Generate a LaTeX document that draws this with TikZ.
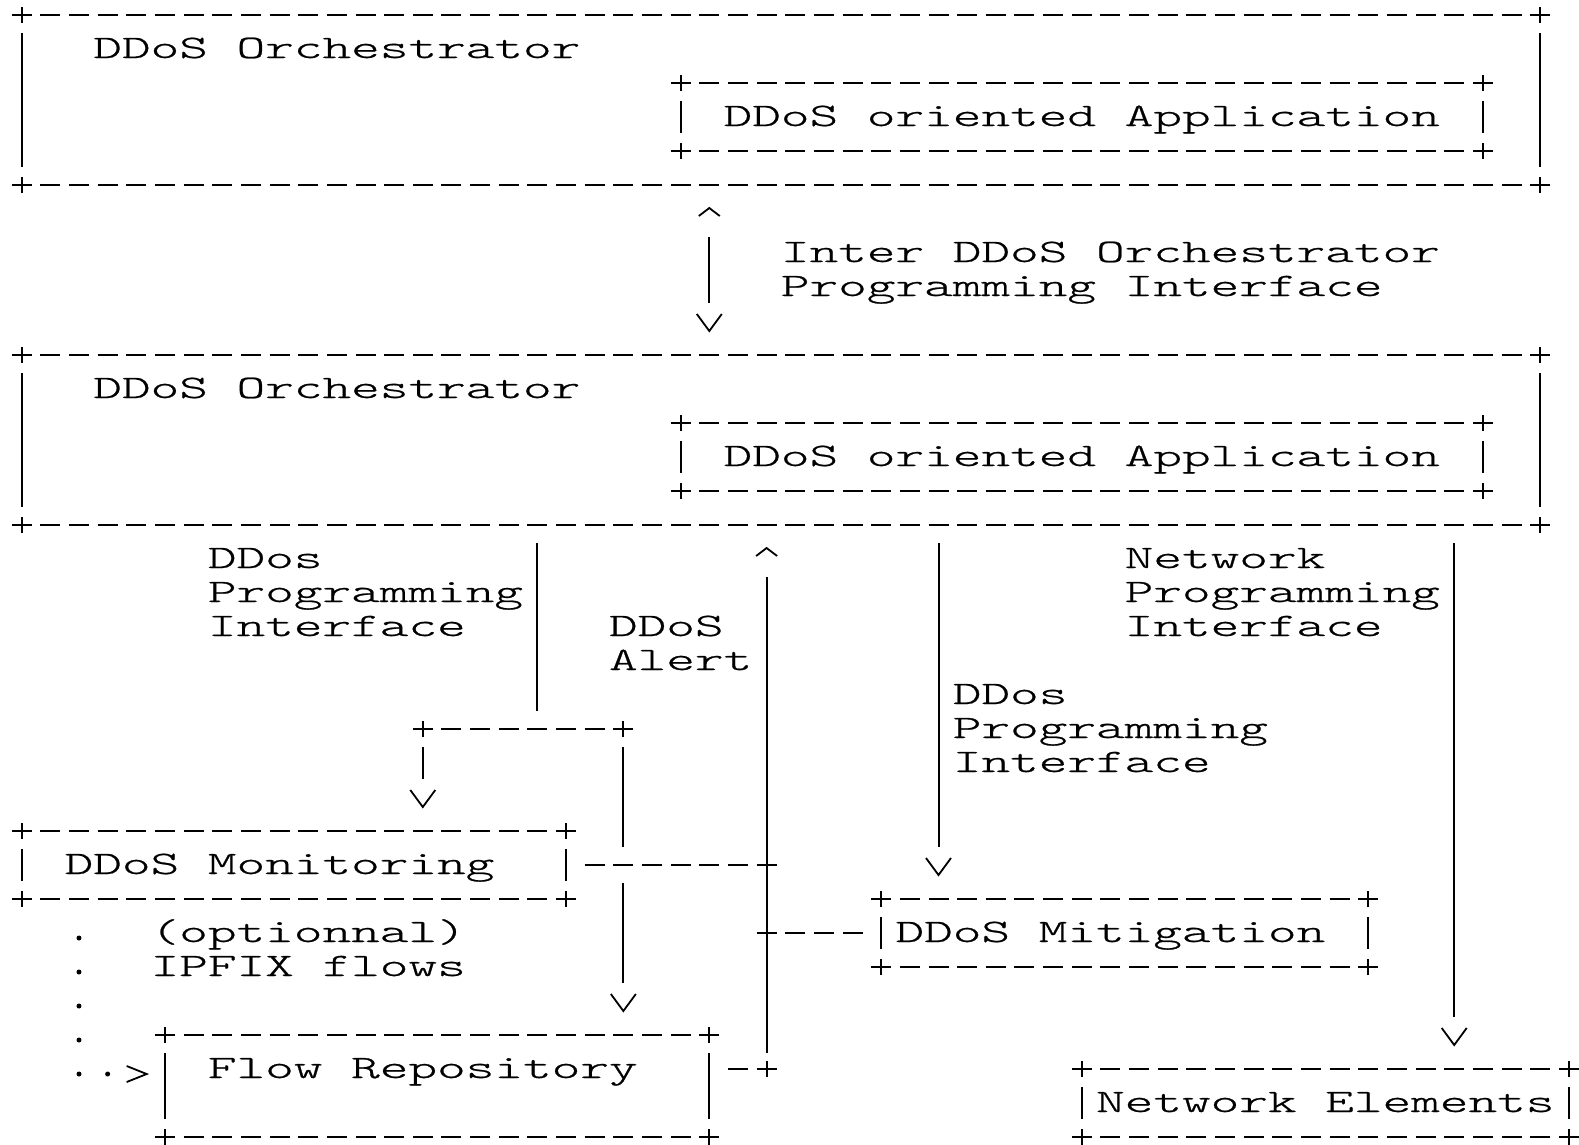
\documentclass[tikz,border=0pt]{standalone}
\usepackage{fontspec}
\newfontfamily\asciifont{lmmonolt10-regular}[Extension=.otf,FakeStretch=1.6668,FakeBold=0.7]
\usetikzlibrary{arrows.meta}

% an arrow tip drawn like the ASCII glyphs v, ^ and > (open chevron, line stops short of it)
\pgfdeclarearrow{
  name = Glyph,
  defaults = {length=8.5pt, width=12.5pt, inset=14pt, line width=0.9pt},
  setup code = {
    \pgfarrowssettipend{0pt}
    \pgfarrowssetbackend{-\pgfarrowlength}
    \pgfarrowssetlineend{-\pgfarrowinset}
    \pgfarrowshullpoint{0pt}{0pt}
    \pgfarrowsupperhullpoint{-\pgfarrowlength}{.5\pgfarrowwidth}
    \pgfarrowssavethe\pgfarrowlinewidth
    \pgfarrowssavethe\pgfarrowlength
    \pgfarrowssavethe\pgfarrowwidth
  },
  drawing code = {
    \pgfsetdash{}{+0pt}
    \pgfsetbuttcap
    \pgfsetmiterjoin
    \pgfsetlinewidth{\pgfarrowlinewidth}
    \pgfpathmoveto{\pgfqpoint{-\pgfarrowlength}{.5\pgfarrowwidth}}
    \pgfpathlineto{\pgfqpoint{0pt}{0pt}}
    \pgfpathlineto{\pgfqpoint{-\pgfarrowlength}{-.5\pgfarrowwidth}}
    \pgfusepathqstroke
  },
  parameters = {\the\pgfarrowlinewidth,\the\pgfarrowlength,\the\pgfarrowwidth,\the\pgfarrowinset},
}

\tikzset{
  ln/.style={line width=1pt, draw=black},
  hdash/.style={ln, dash pattern=on 10pt off 4.325pt},
  boxnode/.style={rectangle, draw=none, inner sep=0pt, outer sep=0pt},
  lbl/.style={inner sep=0pt, outer sep=0pt, anchor=base west,
    font=\asciifont\fontsize{16.37pt}{17pt}\selectfont},
  tov/.style={-{Glyph}},
  tocaret/.style={-{Glyph[length=4pt,width=10.5pt,inset=14.5pt]}},
  bothtips/.style={{Glyph[length=4pt,width=10.5pt,inset=14.5pt]}-{Glyph}},
  togt/.style={-{Glyph[length=10pt,width=8pt,inset=15pt,line width=0.9pt]}},
}

\newcommand\plusmark[1]{\draw[ln] ([xshift=-5pt]#1) -- ([xshift=5pt]#1) ([yshift=-4pt]#1) -- ([yshift=4pt]#1);}
% name, left col, right col, top row, bottom row
\newcommand\asciibox[5]{%
  \node[boxnode, minimum width={(#3-#2)*14.325pt}, minimum height={(#5-#4)*17pt}]
    (#1) at ({(#2+#3)/2},{(#4+#5)/2}) {};
  \draw[hdash] ([xshift=9.325pt]#1.north west) -- ([xshift=-9.325pt]#1.north east);
  \draw[hdash] ([xshift=9.325pt]#1.south west) -- ([xshift=-9.325pt]#1.south east);
  \draw[ln] ([yshift=-9pt]#1.north west) -- ([yshift=9pt]#1.south west);
  \draw[ln] ([yshift=-9pt]#1.north east) -- ([yshift=9pt]#1.south east);
  \plusmark{#1.north west}\plusmark{#1.north east}\plusmark{#1.south west}\plusmark{#1.south east}%
}
\newcommand\lines[1]{\begin{tabular}[t]{@{}l@{}}#1\end{tabular}}

\begin{document}
\begin{tikzpicture}[x=14.325pt, y=-17pt]
\useasboundingbox (-0.7574,-0.4412) rectangle (54.356,33.235);

% ---------- boxes ----------
\asciibox{orchA}{0}{53}{0}{5}
\asciibox{appA}{23}{51}{2}{4}
\asciibox{orchB}{0}{53}{10}{15}
\asciibox{appB}{23}{51}{12}{14}
\asciibox{mon}{0}{19}{24}{26}
\asciibox{mit}{30}{47}{26}{28}
\asciibox{flow}{5}{24}{30}{33}
\asciibox{ne}{37}{54}{31}{33}

% ---------- texts ----------
\node[lbl] (tOrchA) at (2.5,1.2647) {DDoS Orchestrator};
\node[lbl] (tAppA) at (24.5,3.2647) {DDoS oriented Application};
\node[lbl] (tInter) at (26.5,7.2647) {\lines{Inter DDoS Orchestrator\\Programming Interface}};
\node[lbl] (tOrchB) at (2.5,11.2647) {DDoS Orchestrator};
\node[lbl] (tAppB) at (24.5,13.2647) {DDoS oriented Application};
\node[lbl] (tDpiA) at (6.5,16.2647) {\lines{DDos\\Programming\\Interface}};
\node[lbl] (tAlert) at (20.5,18.2647) {\lines{DDoS\\Alert}};
\node[lbl] (tNpi) at (38.5,16.2647) {\lines{Network\\Programming\\Interface}};
\node[lbl] (tDpiB) at (32.5,20.2647) {\lines{DDos\\Programming\\Interface}};
\node[lbl] (tMon) at (1.5,25.2647) {DDoS Monitoring};
\node[lbl] (tIpfix) at (4.5,27.2647) {\lines{(optionnal)\\IPFIX flows}};
\node[lbl] (tMit) at (30.5,27.2647) {DDoS Mitigation};
\node[lbl] (tFlow) at (6.5,31.2647) {Flow Repository};
\node[lbl] (tNe) at (37.5,32.2647) {Network Elements};

% ---------- helper coordinates ----------
\coordinate (x24) at (24,0);
\coordinate (x18) at (18,0);
\coordinate (x32) at (32,0);
\coordinate (x50) at (50,0);
\coordinate (j) at (18,21);
\coordinate (jl) at (14,21);
\coordinate (jr) at (21,21);
\coordinate (busM) at (26,25);
\coordinate (busK) at (26,27);
\coordinate (busF) at (26,31);
\coordinate (ipc) at (2,31.147);

% ---------- Inter DDoS Orchestrator Programming Interface ----------
\draw[ln, bothtips, shorten <=11.5pt, shorten >=12pt] (orchA.south -| x24) -- (orchB.north -| x24);

% ---------- DDos Programming Interface (to monitoring and flow repository) ----------
\draw[ln, shorten <=9pt, shorten >=9pt] (orchB.south -| x18) -- (j);
\draw[hdash, shorten <=9.325pt, shorten >=9.325pt] (jl) -- (jr);
\plusmark{jl}\plusmark{jr}
\draw[ln, tov, shorten <=9pt, shorten >=12pt] (jl) -- (mon.north -| jl);
\draw[ln, tov, dash pattern=on 50pt off 18pt on 300pt off 1pt, shorten <=9pt, shorten >=12pt] (jr) -- (flow.north -| jr);

% ---------- DDoS Alert bus ----------
\draw[hdash, shorten <=9.325pt, shorten >=9.325pt] (mon.east) -- (busM);
\draw[hdash, shorten <=9.325pt, shorten >=9.325pt] (mit.west) -- (busK);
\draw[hdash, shorten <=9.325pt, shorten >=9.325pt] (busF -| flow.east) -- (busF);
\plusmark{busM}\plusmark{busK}\plusmark{busF}
\draw[ln, tocaret, shorten <=8pt, shorten >=11.5pt] (busF) -- (busF |- orchB.south);

% ---------- DDos Programming Interface (to mitigation) ----------
\draw[ln, tov, shorten <=9pt, shorten >=12pt] (orchB.south -| x32) -- (mit.north -| x32);

% ---------- Network Programming Interface ----------
\draw[ln, tov, shorten <=9pt, shorten >=12pt] (orchB.south -| x50) -- (ne.north -| x50);

% ---------- (optionnal) IPFIX flows ----------
\draw[line width=2.5pt, line cap=round, togt,
  dash pattern=on 0pt off 17pt on 0pt off 17pt on 0pt off 17pt on 0pt off 17pt on 0pt off 14.325pt on 0pt off 60pt,
  shorten <=19.5pt, shorten >=9.15pt]
  (mon.south -| ipc) -- (ipc) -- (ipc -| flow.west);
\end{tikzpicture}
\end{document}
